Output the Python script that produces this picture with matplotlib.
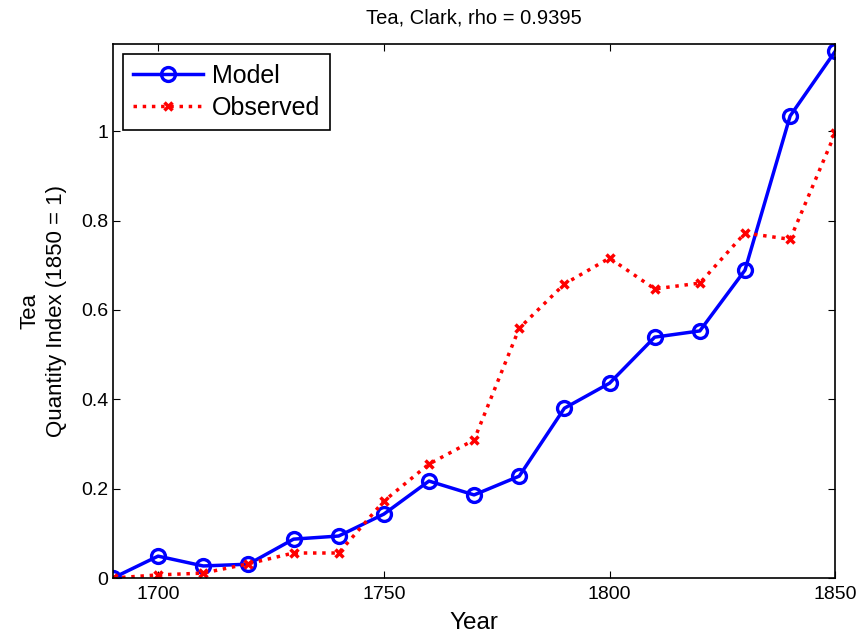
### Tea quantity index: model vs observed (Clark)

import numpy as np
import matplotlib.pyplot as plt

plt.rcParams['font.family'] = ['Liberation Sans', 'DejaVu Sans']

years = [1690, 1700, 1710, 1720, 1730, 1740, 1750, 1760, 1770, 1780,
         1790, 1800, 1810, 1820, 1830, 1840, 1850]
model = [0.0, 0.049, 0.027, 0.031, 0.087, 0.094, 0.143, 0.217, 0.186, 0.228,
         0.380, 0.436, 0.539, 0.553, 0.689, 1.034, 1.179]
observed = [0.0, 0.007, 0.011, 0.032, 0.056, 0.056, 0.172, 0.255, 0.309, 0.559,
            0.658, 0.716, 0.647, 0.660, 0.772, 0.758, 0.996]

fig = plt.figure(figsize=(8.62, 6.38), dpi=100)
ax = fig.add_axes([0.131, 0.094, 0.838, 0.837])

ax.plot(years, model, '-o', color='blue', lw=2.5, ms=10, mew=2.4,
        mfc='none', label='Model')
ax.plot(years, observed, ':x', color='red', lw=2.5, ms=6, mew=2.5,
        label='Observed')

ax.set_xlim(1690, 1850)
ax.set_ylim(0, 1.195)
ax.set_xticks([1700, 1750, 1800, 1850])
ax.set_yticks([0, 0.2, 0.4, 0.6, 0.8, 1])
ax.set_yticklabels(['0', '0.2', '0.4', '0.6', '0.8', '1'])
ax.tick_params(direction='in', top=True, right=True, length=5, labelsize=14)
ax.tick_params(axis='x', pad=6)
for s in ax.spines.values():
    s.set_linewidth(1.2)

ax.set_title('Tea, Clark, rho = 0.9395', fontsize=14.5, pad=15)
ax.set_xlabel('Year', fontsize=17.5, labelpad=6)
ax.set_ylabel('Tea\nQuantity Index (1850 = 1)', fontsize=16, labelpad=10,
              linespacing=1.35)

leg = ax.legend(loc='upper left', fontsize=18, fancybox=False, framealpha=1,
                edgecolor='black', borderaxespad=0.4, handlelength=2.8,
                handletextpad=0.35, borderpad=0.4, labelspacing=0.32)
leg.get_frame().set_linewidth(1.2)

plt.savefig('out.png', dpi=100)
